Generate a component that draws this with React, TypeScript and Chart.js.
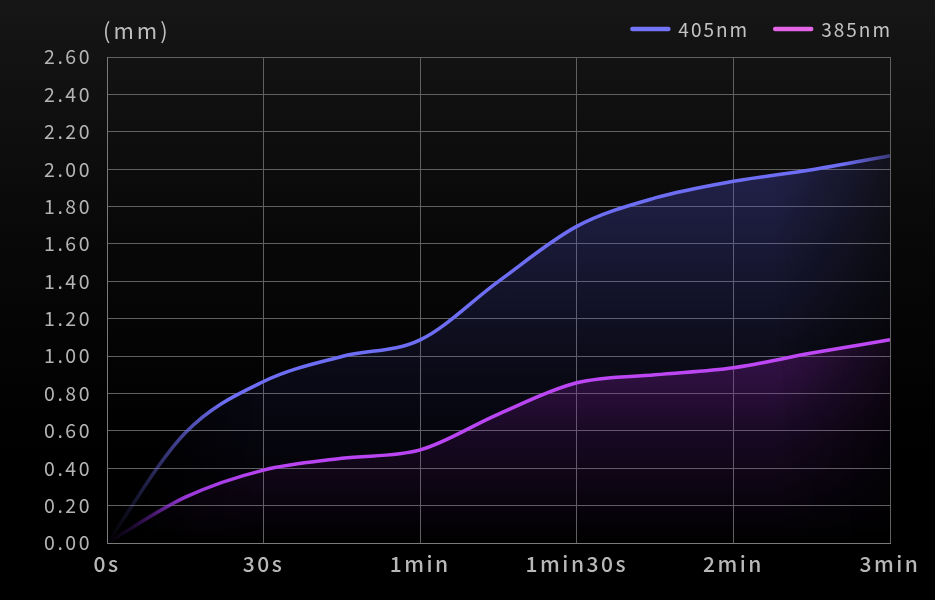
import React, { useEffect, useRef } from 'react';
import { Chart, registerables } from 'chart.js';

Chart.register(...registerables);

// x positions in label units (0 = 0s, 1 = 30s, ... 5 = 3min), half steps between labels
const timeSteps = [0, 0.5, 1, 1.5, 2, 2.5, 3, 3.5, 4, 4.5, 5];
const xLabels = ['0s', '30s', '1min', '1min30s', '2min', '3min'];
const series405 = [0, 0.59, 0.864, 0.998, 1.087, 1.4, 1.694, 1.846, 1.935, 1.997, 2.072];
const series385 = [0, 0.245, 0.39, 0.453, 0.498, 0.69, 0.857, 0.9, 0.938, 1.016, 1.087];
const seriesNames = ['405nm', '385nm'];
const legendColors = ['#7474f6', '#e466e6'];

const FONT = '"Noto Sans CJK JP", "Noto Sans", sans-serif';

// area fill: vertical fade combined with a horizontal fade at both ends
function makeFill(chart: Chart, rgb: string, topValue: number, topAlpha: number, leftFade: number) {
  const { chartArea, width, height } = chart;
  if (!chartArea) return 'transparent';
  const yScale = chart.scales.y;
  const c = document.createElement('canvas');
  c.width = width;
  c.height = height;
  const g = c.getContext('2d')!;
  const top = yScale.getPixelForValue(topValue);
  const vg = g.createLinearGradient(0, top, 0, chartArea.bottom);
  vg.addColorStop(0, `rgba(${rgb},${topAlpha})`);
  vg.addColorStop(0.5, `rgba(${rgb},${topAlpha * 0.35})`);
  vg.addColorStop(1, `rgba(${rgb},0)`);
  g.fillStyle = vg;
  g.fillRect(0, 0, width, height);
  g.globalCompositeOperation = 'destination-in';
  const hg = g.createLinearGradient(chartArea.left, 0, chartArea.right, 0);
  hg.addColorStop(0, 'rgba(0,0,0,0)');
  hg.addColorStop(leftFade, 'rgba(0,0,0,1)');
  hg.addColorStop(0.85, 'rgba(0,0,0,1)');
  hg.addColorStop(1, 'rgba(0,0,0,0.25)');
  g.fillStyle = hg;
  g.fillRect(0, 0, width, height);
  return chart.ctx.createPattern(c, 'no-repeat')!;
}

function makeStroke(chart: Chart, stops: [number, string][]) {
  const { chartArea, ctx } = chart;
  if (!chartArea) return '#888';
  const grad = ctx.createLinearGradient(chartArea.left, 0, chartArea.right, 0);
  stops.forEach(([o, col]) => grad.addColorStop(o, col));
  return grad;
}

const decorPlugin = {
  id: 'decor',
  beforeDraw(chart: any) {
    chart.ctx.letterSpacing = '2.5px';
  },
  afterDraw(chart: any) {
    const { ctx, chartArea } = chart;
    ctx.save();
    ctx.textBaseline = 'middle';
    ctx.fillStyle = '#bdbdbd';
    ctx.letterSpacing = '3px';
    ctx.font = `400 22px ${FONT}`;
    ctx.textAlign = 'left';
    ctx.fillText('(mm)', chartArea.left - 4, 31);

    // legend, right aligned to plot edge
    ctx.letterSpacing = '2px';
    ctx.font = `400 19px ${FONT}`;
    const swatch = 40;
    const gap = 8;
    const itemGap = 24;
    const widths = seriesNames.map((n) => ctx.measureText(n).width);
    let total = 0;
    widths.forEach((w, i) => {
      total += swatch + gap + w + (i < widths.length - 1 ? itemGap : 0);
    });
    let x = chartArea.right + 2 - total;
    const y = 29;
    seriesNames.forEach((name, i) => {
      ctx.strokeStyle = legendColors[i];
      ctx.lineWidth = 4.5;
      ctx.lineCap = 'round';
      ctx.beginPath();
      ctx.moveTo(x + 2, y);
      ctx.lineTo(x + swatch - 2, y);
      ctx.stroke();
      ctx.fillStyle = '#c4c4c4';
      ctx.fillText(name, x + swatch + gap, y + 1);
      x += swatch + gap + widths[i] + itemGap;
    });
    ctx.restore();
    ctx.letterSpacing = '0px';
  },
};

export default function App() {
  const canvasRef = useRef<HTMLCanvasElement>(null);

  useEffect(() => {
    document.body.style.margin = '0';
    if (!canvasRef.current) return;
    const chart = new Chart(canvasRef.current, {
      type: 'line',
      data: {
        datasets: [
          {
            label: seriesNames[0],
            data: timeSteps.map((t, i) => ({ x: t, y: series405[i] })),
            borderColor: (ctx: any) =>
              makeStroke(ctx.chart, [
                [0, 'rgba(110,110,244,0)'],
                [0.03, 'rgba(110,110,244,0.15)'],
                [0.15, 'rgba(110,110,244,1)'],
                [0.94, 'rgba(110,110,244,1)'],
                [1, 'rgba(110,110,244,0.45)'],
              ]),
            backgroundColor: (ctx: any) => makeFill(ctx.chart, '82,82,210', 2.1, 0.34, 0.2),
            fill: 'origin',
            borderWidth: 3.5,
            pointRadius: 0,
            cubicInterpolationMode: 'monotone',
            order: 2,
          },
          {
            label: seriesNames[1],
            data: timeSteps.map((t, i) => ({ x: t, y: series385[i] })),
            borderColor: (ctx: any) =>
              makeStroke(ctx.chart, [
                [0, 'rgba(120,40,200,0)'],
                [0.03, 'rgba(120,40,200,0.2)'],
                [0.1, 'rgba(170,62,240,0.9)'],
                [0.2, 'rgba(184,68,242,1)'],
                [1, 'rgba(190,72,244,1)'],
              ]),
            backgroundColor: (ctx: any) => makeFill(ctx.chart, '140,30,170', 1.1, 0.36, 0.12),
            fill: 'origin',
            borderWidth: 3.5,
            pointRadius: 0,
            cubicInterpolationMode: 'monotone',
            order: 1,
          },
        ],
      },
      options: {
        animation: false,
        responsive: false,
        maintainAspectRatio: false,
        layout: { padding: { top: 57, right: 45, left: 0, bottom: 0 } },
        plugins: {
          legend: { display: false },
          tooltip: { enabled: false },
        },
        scales: {
          x: {
            type: 'linear',
            min: 0,
            max: 5,
            afterFit: (s: any) => {
              s.height = 57;
            },
            ticks: {
              stepSize: 1,
              padding: 8,
              color: '#b8b8b8',
              font: { family: FONT, size: 21, weight: 500 },
              callback: (v: any) => xLabels[Number(v)] ?? '',
              maxRotation: 0,
              autoSkip: false,
            },
            grid: { color: '#606060', lineWidth: 1, drawTicks: false },
            border: { color: '#7a7a7a', width: 1 },
          },
          y: {
            min: 0,
            max: 2.6,
            afterFit: (s: any) => {
              s.width = 107;
            },
            ticks: {
              stepSize: 0.2,
              padding: 15,
              color: '#b4b4b4',
              font: { family: FONT, size: 19.5, weight: 400 },
              callback: (v: any) => Number(v).toFixed(2),
            },
            grid: { color: '#606060', lineWidth: 1, drawTicks: false },
            border: { color: '#7a7a7a', width: 1 },
          },
        },
      },
      plugins: [decorPlugin],
    });
    return () => chart.destroy();
  }, []);

  return (
    <div
      style={{
        position: 'fixed',
        inset: 0,
        width: 935,
        height: 600,
        background: 'linear-gradient(to bottom, #161616 0%, #080808 40%, #000 75%, #000 100%)',
      }}
    >
      <canvas ref={canvasRef} width={935} height={600} style={{ display: 'block', width: 935, height: 600 }} />
    </div>
  );
}
